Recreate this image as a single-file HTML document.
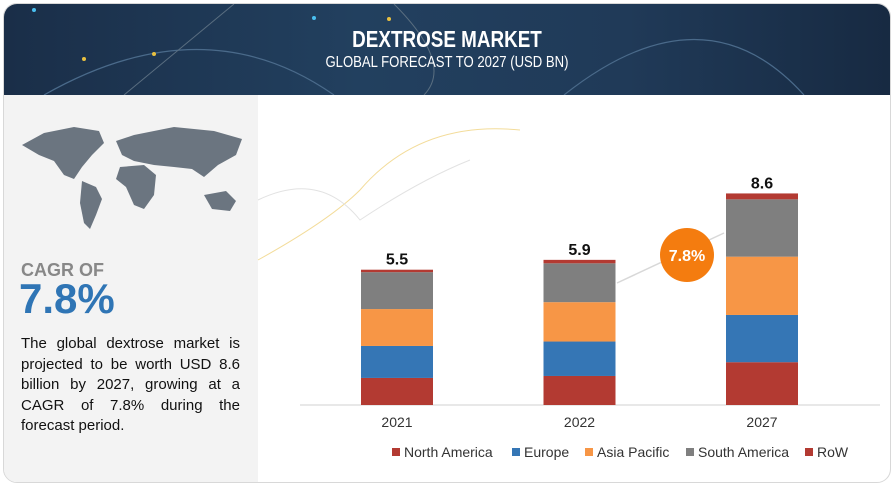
<!DOCTYPE html>
<html><head><meta charset="utf-8"><style>
body{margin:0;width:895px;height:489px;background:#fff;font-family:"Liberation Sans",sans-serif;overflow:hidden;position:relative}
#frame{position:absolute;left:3px;top:3px;width:886px;height:478px;border:1px solid #d8d8d8;border-radius:14px;overflow:hidden;background:#fff}
#header{position:absolute;left:0;top:0;width:886px;height:91px;background:linear-gradient(90deg,#1a2e48,#22405f 40%,#203a58 70%,#172a42)}
#title{position:absolute;top:22px;width:100%;text-align:center;color:#fff;font:bold 23px "Liberation Sans",sans-serif;transform:scaleX(0.82)}
#sub{position:absolute;top:50px;width:100%;text-align:center;color:#fff;font:16px "Liberation Sans",sans-serif;transform:scaleX(0.82)}
#left{position:absolute;left:0;top:91px;width:254px;height:387px;background:#f3f3f3}
#cagr-label{position:absolute;left:17px;top:165px;color:#888;font-size:18px;font-weight:bold}
#cagr-val{position:absolute;left:15px;top:180px;color:#2f75b5;font-size:42px;font-weight:bold}
#desc{position:absolute;left:17px;top:239px;width:219px;font-size:15px;line-height:20.6px;text-align:justify;color:#111;text-align-last:left}
</style></head><body>
<div id="frame">
<div id="header">
<svg width="886" height="91" style="position:absolute;left:0;top:0">
<path d="M40 91 Q200 0 330 91" stroke="#4a6a8a" fill="none" stroke-width="1.2"/>
<path d="M560 91 Q700 -20 800 91" stroke="#4a6a8a" fill="none" stroke-width="1.2"/>
<path d="M230 0 L120 91" stroke="#5a6e80" fill="none"/>
<path d="M390 0 Q450 60 420 91" stroke="#5a6e80" fill="none"/>
<circle cx="80" cy="55" r="2" fill="#e8c040"/><circle cx="150" cy="50" r="2" fill="#e8c040"/><circle cx="385" cy="15" r="2" fill="#e8c040"/><circle cx="310" cy="14" r="2" fill="#4ac0f0"/><circle cx="30" cy="6" r="2" fill="#4ac0f0"/>
</svg>
<div id="title">DEXTROSE MARKET</div>
<div id="sub">GLOBAL FORECAST TO 2027 (USD BN)</div>
</div>
<div id="left">
<svg width="254" height="150" style="position:absolute;left:0;top:0">
<g fill="#6b7580">
<path d="M18 50 L40 38 L70 32 L95 36 L100 48 L88 60 L78 72 L70 84 L60 80 L50 66 L35 60 Z"/>
<path d="M78 86 L92 92 L98 104 L92 120 L86 134 L80 128 L76 108 Z"/>
<path d="M112 46 L130 40 L170 32 L210 36 L238 44 L232 60 L214 70 L200 82 L188 74 L170 72 L150 70 L130 66 L118 60 Z"/>
<path d="M116 72 L140 70 L152 80 L150 100 L140 114 L130 110 L122 92 L112 84 Z"/>
<path d="M200 100 L222 96 L232 106 L226 116 L208 114 Z"/>
</g></svg>
<div id="cagr-label">CAGR OF</div>
<div id="cagr-val">7.8%</div>
<div id="desc">The global dextrose market is projected to be worth USD 8.6 billion by 2027, growing at a CAGR of 7.8% during the forecast period.</div>
</div>
</div>
<svg id="chart" width="895" height="489" style="position:absolute;left:0;top:0">
<path d="M258 260 Q330 220 360 190 Q420 120 520 130" stroke="#f3dc9a" fill="none" stroke-width="1"/>
<path d="M258 200 Q320 170 360 220 Q420 180 470 160" stroke="#e2e2e2" fill="none" stroke-width="1"/>
</svg>
<script>
const categories=["2021","2022","2027"];
const totals=["5.5","5.9","8.6"];
const seriesNames=["North America","Europe","Asia Pacific","South America","RoW"];
const colors=["#b33a32","#3576b5","#f79646","#7f7f7f","#b33a32"];
const northAmerica=[1.1,1.18,1.74];
const europe=[1.3,1.4,1.92];
const asiaPacific=[1.5,1.6,2.37];
const southAmerica=[1.5,1.58,2.33];
const row=[0.1,0.14,0.24];
const cagrLabel="7.8%";
const NS="http://www.w3.org/2000/svg";
const svg=document.getElementById('chart');
const baseY=405,pxPerUnit=24.6,barW=72;
const xCenter=i=>397+i*182.5;
const y=v=>baseY-v*pxPerUnit;
function mk(t,a){const e=document.createElementNS(NS,t);for(const k in a)e.setAttribute(k,a[k]);svg.appendChild(e);return e;}
const axis=mk('line',{x1:300,x2:880,y1:baseY,y2:baseY,stroke:'#d0d0d0','stroke-width':1});


const series=[northAmerica,europe,asiaPacific,southAmerica,row];
categories.forEach((c,i)=>{
 let cum=0;
 series.forEach((s,k)=>{
  const r=mk('rect',{x:xCenter(i)-barW/2,y:y(cum+s[i]),width:barW,height:s[i]*pxPerUnit,fill:colors[k]});
  
  
  cum+=s[i];
 });
 const t=mk('text',{x:xCenter(i),y:y(cum)-5,'text-anchor':'middle','font-size':16,'font-weight':'bold',fill:'#111'});
 t.textContent=totals[i];
 
 
 const l=mk('text',{x:xCenter(i),y:427,'text-anchor':'middle','font-size':14,fill:'#333'});
 l.textContent=c;
 
 
});
const ar=mk('line',{x1:617,y1:283,x2:724,y2:233,stroke:'#d8d8d8','stroke-width':1.5});


const circ=mk('circle',{cx:687,cy:255,r:27,fill:'#f47c0f'});


const ct=mk('text',{x:687,y:261,'text-anchor':'middle','font-size':16,'font-weight':'bold',fill:'#fff'});
ct.textContent=cagrLabel;


const lx=[392,512,585,686,805];
seriesNames.forEach((n,k)=>{
 const g=mk('g',{});
 
 
 const s=document.createElementNS(NS,'rect');s.setAttribute('x',lx[k]);s.setAttribute('y',448);s.setAttribute('width',8);s.setAttribute('height',8);s.setAttribute('fill',colors[k]);g.appendChild(s);
 const t=document.createElementNS(NS,'text');t.setAttribute('x',lx[k]+12);t.setAttribute('y',457);t.setAttribute('font-size',14);t.setAttribute('fill','#333');t.textContent=n;g.appendChild(t);
});
</script>
</body></html>
